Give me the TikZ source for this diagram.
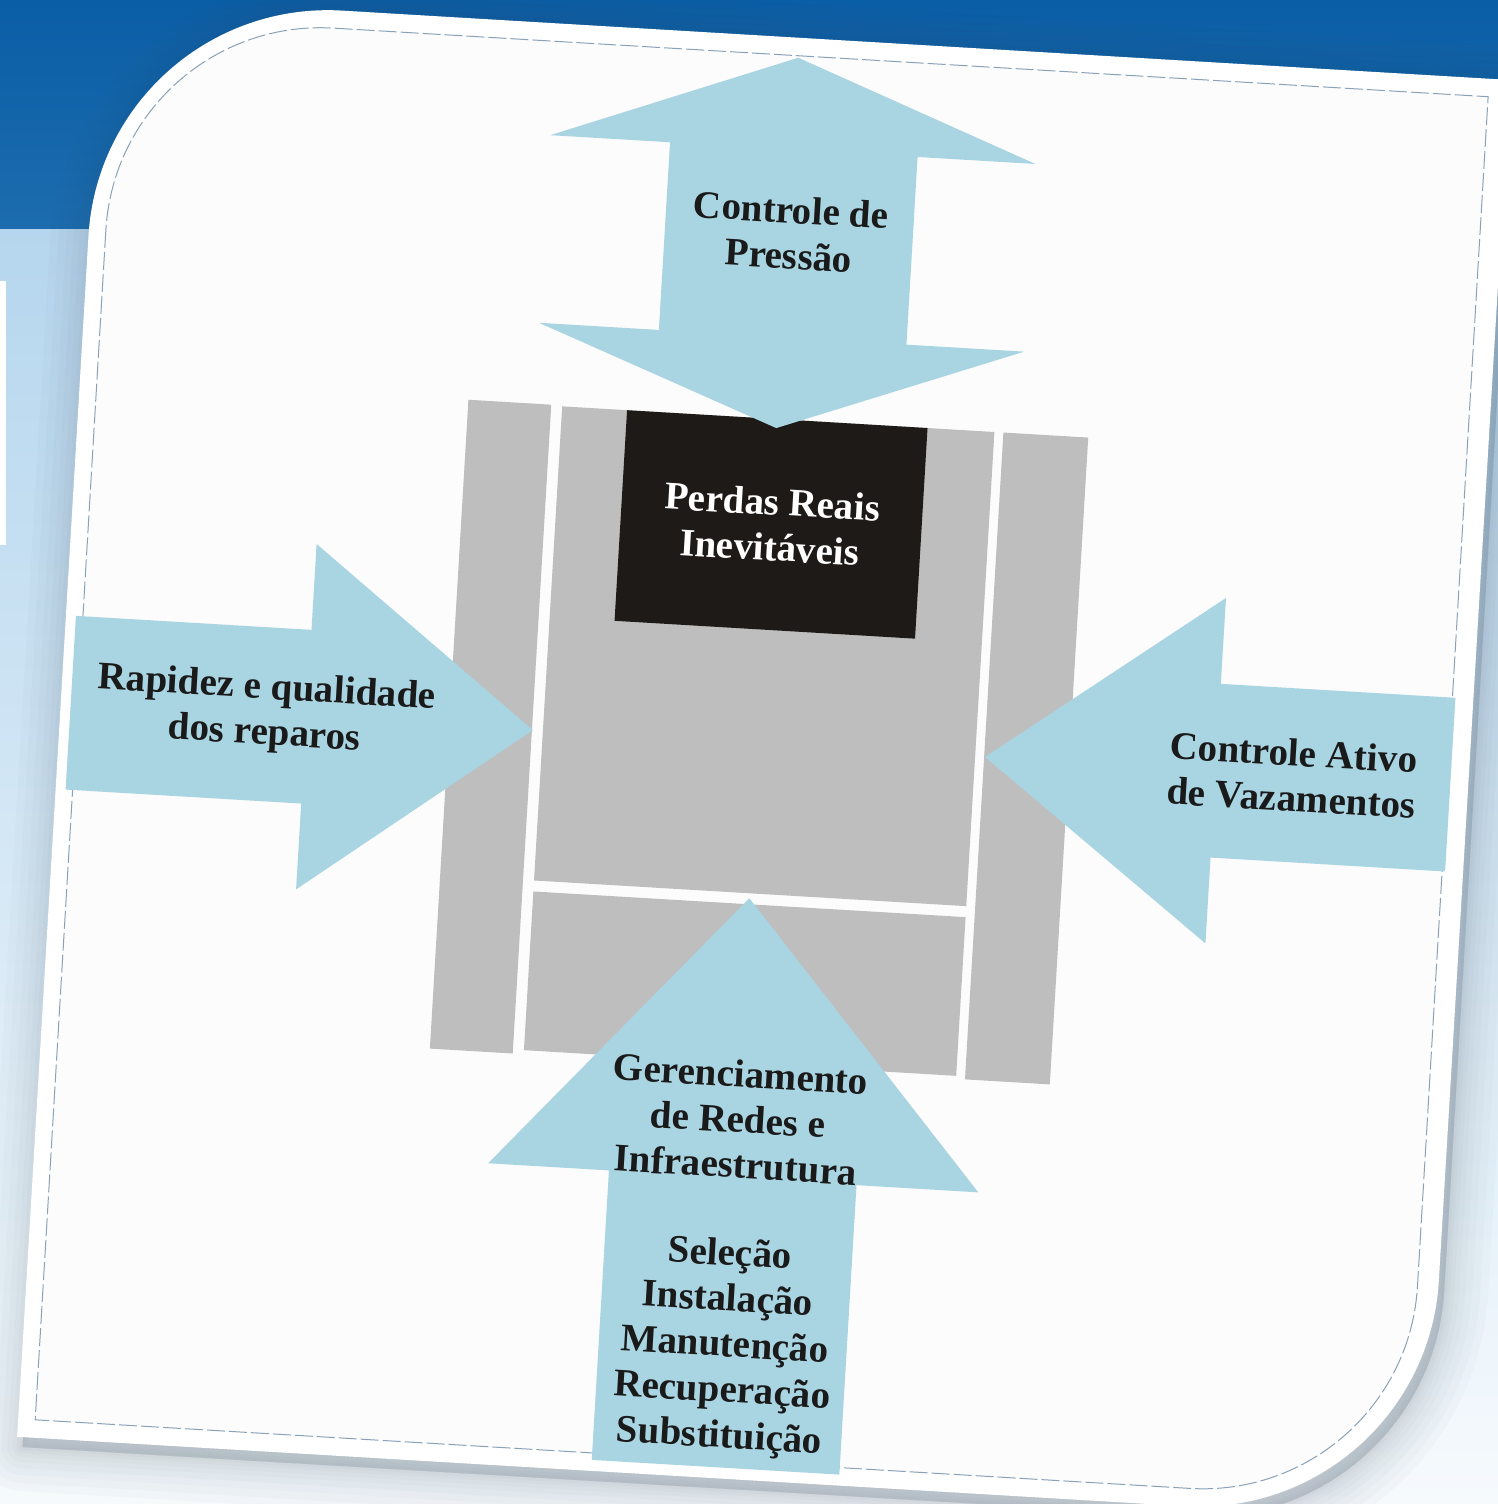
\documentclass[tikz,border=0pt]{standalone}
\usepackage{fontspec}
\setmainfont{Liberation Serif}
\definecolor{bandA}{HTML}{0A5EA5}
\definecolor{bandB}{HTML}{1C6CAF}
\definecolor{bgA}{HTML}{B5D6EE}
\definecolor{bgB}{HTML}{F6FAFD}
\definecolor{arrowblue}{HTML}{A9D4E1}
\definecolor{panelgray}{HTML}{BEBEBE}
\definecolor{boxblack}{HTML}{1E1A17}
\definecolor{txt}{HTML}{1A1A1A}
\definecolor{dashcol}{HTML}{8AA2B9}
\definecolor{shadowcol}{HTML}{3A4A5C}
\definecolor{cardin}{HTML}{FCFCFC}
\def\cardpath{(-690,476) -- (-690,-727) -- (480,-727) arc[start angle=270, end angle=360, radius=240] -- (720,716) -- (-450,716) arc[start angle=90, end angle=180, radius=240] -- cycle}
\def\dashpath{(-673,483) -- (-673,-709) -- (484,-709) arc[start angle=270, end angle=360, radius=215] -- (699,698) -- (-458,698) arc[start angle=90, end angle=180, radius=215] -- cycle}
\tikzset{
  lbl/.style={font=\fontsize{19.5}{22.8}\selectfont\bfseries, text=txt, align=center, inner sep=0pt},
  arrowshape/.style={fill=arrowblue},
  panel/.style={fill=panelgray},
}
\begin{document}
\begin{tikzpicture}[x=0.5pt, y=0.5pt]
\useasboundingbox (0,0) rectangle (1498,-1504);
% background
\shade[top color=bgA, bottom color=bgB] (0,-1504) rectangle (1498,-226);
\shade[top color=bandA, bottom color=bandB] (0,-228) rectangle (1498,0);
\fill[white] (0,-281) rectangle (6,-545);
\begin{scope}[shift={(749,-752)}, rotate=-3.4, transform shape]
  % soft shadow of the card
  \foreach \w in {44,36,28,21,15,10,6,3} {
    \path[fill=shadowcol, draw=shadowcol, line width=\w, opacity=0.022, line join=round, shift={(6,-10)}] \cardpath;
  }
  % card
  \fill[white] \cardpath;
  \path[fill=cardin, draw=dashcol, line width=0.5pt, dash pattern=on 9pt off 2pt] \dashpath;
  % grey panels
  \fill[panel] (-301,-315) rectangle (-218,335);
  \fill[panel] (-207,-141) rectangle (226,334);
  \fill[panel] (-207,-311) rectangle (226,-152);
  \fill[panel] (235,-314) rectangle (320,334);
  % central black box
  \node[fill=boxblack, minimum width=150.5pt, minimum height=105.5pt, inner sep=0pt,
        font=\fontsize{19.5}{22.8}\selectfont\bfseries, text=white, align=center]
        (perdas) at (8.5,228.5) {Perdas Reais\\Inevitáveis};
  % top double arrow
  \fill[arrowshape] (8,696) -- (251,604) -- (133,604) -- (133,416) -- (251,416) -- (8,325)
        -- (-235,416) -- (-115,416) -- (-115,604) -- (-235,604) -- cycle;
  % left arrow
  \fill[arrowshape] (-680,96) -- (-444,96) -- (-444,182) -- (-217,9) -- (-444,-164)
        -- (-444,-78) -- (-680,-78) -- cycle;
  % right arrow
  \fill[arrowshape] (702,96) -- (467,96) -- (467,182) -- (236,9) -- (467,-164)
        -- (467,-78) -- (702,-78) -- cycle;
  % bottom arrow
  \fill[arrowshape] (9,-146) -- (255,-426) -- (133,-426) -- (133,-716) -- (-115,-716)
        -- (-115,-426) -- (-236,-426) -- cycle;
  % labels
  \node[lbl] (pressao) at (10,521) {Controle de\\Pressão};
  \node[lbl] (rapidez) at (-485,11) {Rapidez e qualidade\\dos reparos};
  \node[lbl] (ativo) at (544,9) {Controle Ativo\\de Vazamentos};
  \node[lbl] (redes) at (11,-506) {Gerenciamento\\de Redes e\\Infraestrutura\\[21pt]Seleção\\Instalação\\Manutenção\\Recuperação\\Substituição};
\end{scope}
\end{tikzpicture}
\end{document}
